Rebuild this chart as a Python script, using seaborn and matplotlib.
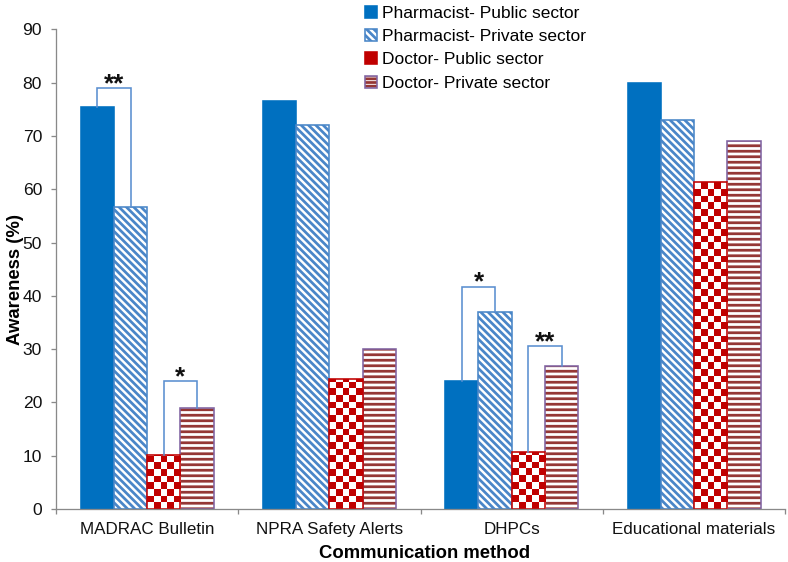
import numpy as np
import pandas as pd
import matplotlib
matplotlib.use("Agg")
import matplotlib.pyplot as plt
import matplotlib.patches as mpatches
from matplotlib.colors import ListedColormap, to_rgba
import seaborn as sns

# ---------------- data ----------------
methods = ["MADRAC Bulletin", "NPRA Safety Alerts", "DHPCs", "Educational materials"]
groups = ["Pharmacist- Public sector", "Pharmacist- Private sector",
          "Doctor- Public sector", "Doctor- Private sector"]
pharm_public = [75.4, 76.5, 24.0, 80.0]
pharm_private = [56.7, 72.1, 37.0, 73.0]
doc_public = [10.1, 24.4, 10.7, 61.4]
doc_private = [19.0, 30.0, 26.8, 69.0]

# significance brackets: category, series pair, bracket height, label
sig_cat = ["MADRAC Bulletin", "MADRAC Bulletin", "DHPCs", "DHPCs"]
sig_pair = [(0, 1), (2, 3), (0, 1), (2, 3)]
sig_height = [79.0, 24.0, 41.7, 30.6]
sig_label = ["**", "*", "*", "**"]

# ---------------- styling ----------------
DPI = 66
W, H = 788, 562
BLUE = "#0070C0"
BLUE_STRIPE = "#4A86C8"
RED = "#C00000"
DARKRED = "#953735"
PURPLE = "#8064A2"
BRACKET = "#5B8FD0"
GRAY = "#898989"

plt.rcParams["font.family"] = ["Liberation Sans", "DejaVu Sans"]
plt.rcParams["hatch.linewidth"] = 3.0

def px2pt(px):
    return px * 72.0 / DPI

df = pd.DataFrame({
    "method": np.repeat(methods, len(groups)),
    "group": groups * len(methods),
    "value": np.array([pharm_public, pharm_private, doc_public, doc_private]).T.ravel(),
})

fig = plt.figure(figsize=(W / DPI, H / DPI), dpi=DPI)
ax_l, ax_r, ax_b, ax_t = 56 / W, 785.2 / W, 1 - 509 / H, 1 - 29.3 / H
ax = fig.add_axes([ax_l, ax_b, ax_r - ax_l, ax_t - ax_b])

sns.barplot(data=df, x="method", y="value", hue="group", order=methods,
            hue_order=groups, palette=[BLUE, "white", "white", "white"],
            width=0.73, saturation=1, errorbar=None, legend=False, ax=ax)

ax.set_xlim(-0.5, 3.5)
ax.set_ylim(0, 90)

conts = ax.containers
edge_lw = px2pt(1.6)
for p in conts[0]:
    p.set_facecolor(BLUE); p.set_edgecolor(BLUE); p.set_linewidth(edge_lw)
for p in conts[1]:
    p.set_facecolor("white"); p.set_edgecolor(BLUE_STRIPE)
    p.set_hatch("\\\\\\"); p.set_linewidth(edge_lw)
for p in conts[3]:
    p.set_facecolor("white"); p.set_edgecolor(PURPLE)
    p.set_hatch("--"); p.set_linewidth(edge_lw)
    if hasattr(p, "set_hatchcolor"):
        p.set_hatchcolor(DARKRED)
    else:
        p._hatch_color = to_rgba(DARKRED)

# checkerboard bars (doc public)
ax_h_px = (ax_t - ax_b) * H
units_per_px = 90.0 / ax_h_px
cmap_ck = ListedColormap(["white", RED])
for p in conts[2]:
    x0, w, h = p.get_x(), p.get_width(), p.get_height()
    px0 = ax.transData.transform((x0, 0))[0]
    px1 = ax.transData.transform((x0 + w, 0))[0]
    ncol = 5
    sq_px = (px1 - px0) / ncol
    nrow = int(np.ceil(h / units_per_px / sq_px))
    arr = (np.add.outer(np.arange(nrow), np.arange(ncol)) % 2).astype(float)
    im = ax.imshow(arr, cmap=cmap_ck, vmin=0, vmax=1, origin="lower",
                   extent=(x0, x0 + w, 0, nrow * sq_px * units_per_px),
                   interpolation="nearest", aspect="auto", zorder=1.5)
    im.set_clip_path(p)
    p.set_facecolor("none"); p.set_edgecolor(RED); p.set_linewidth(edge_lw)
    p.set_zorder(2)

ax.set_xlim(-0.5, 3.5)
ax.set_ylim(0, 90)

# significance brackets
for cat, (a, b), hh, lab in zip(sig_cat, sig_pair, sig_height, sig_label):
    ci = methods.index(cat)
    pa, pb = conts[a][ci], conts[b][ci]
    xa = pa.get_x() + pa.get_width() / 2
    xb = pb.get_x() + pb.get_width() / 2
    ax.plot([xa, xa, xb, xb], [pa.get_height(), hh, hh, pb.get_height()],
            color=BRACKET, lw=px2pt(1.6), zorder=3, solid_joinstyle="miter")
    ax.text((xa + xb) / 2, hh - 3 * units_per_px, lab, ha="center", va="baseline",
            fontsize=px2pt(26), fontweight="bold", color="#111111", zorder=4)

# axes styling
for s in ["top", "right"]:
    ax.spines[s].set_visible(False)
for s in ["left", "bottom"]:
    ax.spines[s].set_color(GRAY)
    ax.spines[s].set_linewidth(px2pt(1.3))

ax.set_yticks(np.arange(0, 91, 10))
ax.tick_params(axis="y", length=px2pt(5), width=px2pt(1.3), color=GRAY,
               labelsize=px2pt(17.5), pad=px2pt(9), labelcolor="#111111")
ax.set_xticks(range(len(methods)))
ax.set_xticklabels(methods)
ax.set_xticks(np.arange(-0.5, 4.0, 1.0), minor=True)
ax.tick_params(axis="x", which="major", length=0, labelsize=px2pt(17),
               pad=px2pt(13), labelcolor="#111111")
ax.tick_params(axis="x", which="minor", length=px2pt(5), width=px2pt(1.3), color=GRAY)

ax.set_xlabel("Communication method", fontsize=px2pt(18.5), fontweight="bold",
              va="center", ha="center")
ax.xaxis.set_label_coords((425 - 56) / 730, (509 - 554) / ax_h_px)
ax.set_ylabel("Awareness (%)", fontsize=px2pt(18.5), fontweight="bold",
              va="center", ha="center")
ax.yaxis.set_label_coords((15 - 56) / 730, (509 - 279) / ax_h_px)

# legend
handles = [
    mpatches.Patch(facecolor=BLUE, edgecolor=BLUE, linewidth=edge_lw),
    mpatches.Patch(facecolor="white", edgecolor=BLUE_STRIPE, hatch="\\\\\\", linewidth=edge_lw),
    mpatches.Patch(facecolor=RED, edgecolor=RED, linewidth=edge_lw),
    mpatches.Patch(facecolor="white", edgecolor=PURPLE, hatch="---", linewidth=edge_lw),
]
hp = handles[3]
if hasattr(hp, "set_hatchcolor"):
    hp.set_hatchcolor(DARKRED)
else:
    hp._hatch_color = to_rgba(DARKRED)

fig.legend(handles, groups, loc="upper left", bbox_to_anchor=(365 / W, 1 - 5.5 / H),
           frameon=False, fontsize=px2pt(17.4), handlelength=0.7, handleheight=0.7,
           handletextpad=0.25, labelspacing=0.47, borderpad=0, borderaxespad=0)

fig.savefig("out.png", dpi=DPI, facecolor="white")
